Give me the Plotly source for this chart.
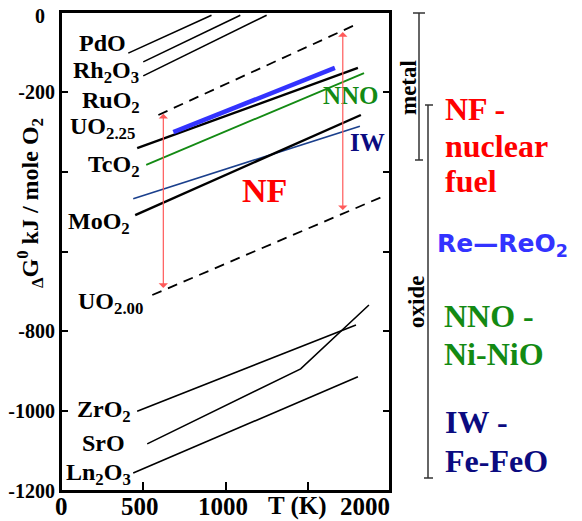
import plotly.graph_objects as go

# ---------------- data (T in K, dG in kJ / mole O2) ----------------
pdo_T = [409, 915];            pdo_G = [-103, -8]
rh_T = [500, 1090];            rh_G = [-125, -8]
ru_T = [500, 1250];            ru_G = [-160, -8]
uo225_T = [592, 1811];         uo225_G = [-258, -28]
re_T = [683, 1665];            re_G = [-301, -140]
tc_T = [463, 1805];            tc_G = [-341, -140]
nno_T = [518, 1842];           nno_G = [-383, -153]
iw_T = [439, 1817];            iw_G = [-468, -286]
mo_T = [451, 1823];            mo_G = [-509, -258]
uo200_T = [555, 1964];         uo200_G = [-709, -461]
zr_T = [463, 1793];            zr_G = [-1000, -784]
sr_T = [524, 1457, 1872];      sr_G = [-1082, -894, -734]
ln_T = [439, 1805];            ln_G = [-1155, -914]

arrow_T = [622, 1713]
arrow_lo = [-695, -500]
arrow_hi = [-255, -50]

label_text = ["PdO", "Rh<sub>2</sub>O<sub>3</sub>", "RuO<sub>2</sub>", "UO<sub>2.25</sub>",
              "TcO<sub>2</sub>", "MoO<sub>2</sub>", "UO<sub>2.00</sub>", "ZrO<sub>2</sub>",
              "SrO", "Ln<sub>2</sub>O<sub>3</sub>"]
label_T = [409, 488, 494, 463, 494, 433, 512, 439, 402, 439]
label_G = [-78, -150, -226, -290, -385, -528, -730, -1000, -1079, -1158]

x_ticks = [0, 500, 1000, 1500, 2000]
x_ticklabels = ["0", "500", "1000", "T (K)", "2000"]
y_ticks = [0, -200, -400, -600, -800, -1000, -1200]
y_ticktext = ["", "<b>-200</b>", "", "", "<b>-800</b>", "<b>-1000</b>", "<b>-1200</b>"]

RED = "#ff0000"
GREEN = "#138a13"
NAVY = "#0b0b80"
BLUE = "#3333ff"
IWC = "#1a3f8c"
SERIF = "Liberation Serif"

# page has an 8px body margin: the figure itself starts at page pixel (8, 8)
OFF = 8

# ---------------- figure ----------------
fig = go.Figure()

def add_line(T, G, color="black", width=1.6, dash="solid"):
    fig.add_trace(go.Scatter(x=T, y=G, mode="lines",
                             line=dict(color=color, width=width, dash=dash),
                             hoverinfo="skip", showlegend=False))

add_line(pdo_T, pdo_G)
add_line(rh_T, rh_G)
add_line(ru_T, ru_G)
add_line(uo225_T, uo225_G, dash="10px,7px", width=1.8)
add_line(tc_T, tc_G, width=2.4)
add_line(nno_T, nno_G, color=GREEN, width=1.8)
add_line(re_T, re_G, color=BLUE, width=4.5)
add_line(iw_T, iw_G, color=IWC, width=1.6)
add_line(mo_T, mo_G, width=2.4)
add_line(uo200_T, uo200_G, dash="10px,7px", width=1.8)
add_line(zr_T, zr_G)
add_line(sr_T, sr_G)
add_line(ln_T, ln_G)

def bold(t):
    return "<b>" + t + "</b>"

ann = []
# formula labels
for t, x, y in zip(label_text, label_T, label_G):
    ann.append(dict(x=x, y=y, xref="x", yref="y", text=bold(t), showarrow=False,
                    xanchor="right", yanchor="middle",
                    font=dict(family=SERIF, size=24, color="black")))
# in-plot labels
ann.append(dict(x=1762, y=-208, xref="x", yref="y", text=bold("NNO"), showarrow=False,
                xanchor="center", yanchor="middle",
                font=dict(family=SERIF, size=25, color=GREEN)))
ann.append(dict(x=1866, y=-326, xref="x", yref="y", text=bold("IW"), showarrow=False,
                xanchor="center", yanchor="middle",
                font=dict(family=SERIF, size=25, color=NAVY)))
ann.append(dict(x=1238, y=-446, xref="x", yref="y", text=bold("NF"), showarrow=False,
                xanchor="center", yanchor="middle",
                font=dict(family=SERIF, size=34, color=RED)))

# double-headed arrows
for t, lo, hi in zip(arrow_T, arrow_lo, arrow_hi):
    ann.append(dict(x=t, y=hi, ax=t, ay=lo, xref="x", yref="y", axref="x", ayref="y",
                    text="", showarrow=True, arrowhead=1, startarrowhead=1,
                    arrowside="end+start", arrowsize=1.3, startarrowsize=1.3,
                    arrowwidth=1.2, arrowcolor="#ff5a5a", standoff=0, startstandoff=0))

# page pixel -> paper helpers for layout decorations
def pxx(p):
    return (p - 61) / 329.0

def pxy(p):
    return (491 - p) / 479.0

def txt(px, py, text, size, color="black", family=SERIF, angle=0, xanchor="center"):
    ann.append(dict(x=pxx(px), y=pxy(py), xref="paper", yref="paper", text=bold(text),
                    showarrow=False, textangle=angle, xanchor=xanchor, yanchor="middle",
                    font=dict(family=family, size=size, color=color)))

# x-axis labels (the last two are shifted left in the original figure)
x_label_px = [61, 140, 223, 297, 365]
for t, p in zip(x_ticklabels, x_label_px):
    txt(p, 506, t, 25)
# y-axis top label and title
txt(40, 16, "0", 20)
txt(30, 203, "<sub>Δ</sub>G<sup>0</sup> kJ / mole O<sub>2</sub>", 24, angle=-90)

# right-hand side texts
txt(409, 88, "metal", 23, angle=-90)
txt(416, 302, "oxide", 23, angle=-90)

right_text = ["NF -", "nuclear", "fuel", "NNO -", "Ni-NiO", "IW -", "Fe-FeO"]
right_px = [443, 443, 443, 442, 442, 443, 443]
right_py = [109, 146, 181, 316, 354, 422, 461]
right_col = [RED, RED, RED, GREEN, GREEN, NAVY, NAVY]
for t, x, y, c in zip(right_text, right_px, right_py, right_col):
    txt(x, y, t, 32, color=c, xanchor="left")
txt(435, 245, "Re—ReO<sub>2</sub>", 25, color=BLUE, family="DejaVu Sans", xanchor="left")

shapes = []
def seg(x0, y0, x1, y1, color="#333333", width=1.5):
    shapes.append(dict(type="line", xref="paper", yref="paper",
                       x0=pxx(x0), y0=pxy(y0), x1=pxx(x1), y1=pxy(y1),
                       line=dict(color=color, width=width)))
# plot frame
shapes.append(dict(type="rect", xref="paper", yref="paper", x0=0, y0=0, x1=1, y1=1,
                   line=dict(color="black", width=2), layer="above"))
# metal bracket
seg(419, 13, 419, 160)
seg(413, 13, 425, 13)
seg(415, 160, 423, 160)
# oxide bracket
seg(428, 105, 428, 478)
seg(425, 105, 433, 105)
seg(424, 478, 433, 478)

fig.update_layout(
    width=582 - OFF, height=521 - OFF,
    margin=dict(l=61 - OFF, r=192, t=12 - OFF, b=30, autoexpand=False),
    paper_bgcolor="white", plot_bgcolor="white",
    showlegend=False,
    annotations=ann, shapes=shapes,
    xaxis=dict(range=[0, 2000], tickvals=x_ticks, showticklabels=False, automargin=False,
               ticks="inside", ticklen=9, tickwidth=1.5, tickcolor="black",
               showline=True, linecolor="black", linewidth=2, mirror=True,
               showgrid=False, zeroline=False),
    yaxis=dict(range=[-1200, 0], tickvals=y_ticks, ticktext=y_ticktext, automargin=False,
               ticks="inside", ticklen=7, tickwidth=1.5, tickcolor="black",
               showline=True, linecolor="black", linewidth=2, mirror="ticks",
               showgrid=False, zeroline=False,
               tickfont=dict(family=SERIF, size=20, color="black")),
)

fig.write_html("out.html")
